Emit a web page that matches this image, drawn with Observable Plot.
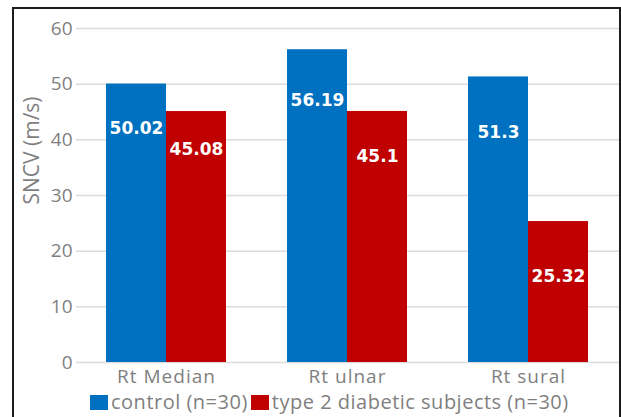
<!DOCTYPE html>
<html><head><meta charset="utf-8">
<script src="https://cdn.jsdelivr.net/npm/d3@7"></script>
<script src="https://cdn.jsdelivr.net/npm/@observablehq/plot@0.6"></script>
<style>
html,body{margin:0;padding:0;background:#fff;overflow:hidden;}
#frame{position:absolute;left:12px;top:7px;width:605px;height:420px;border:2px solid #1c1c1c;background:#fff;}
#legend{display:flex;align-items:center;height:26px;margin-top:0;margin-left:76px;font-family:"Open Sans",sans-serif;font-size:20px;letter-spacing:0.5px;color:#7f7f7f;white-space:nowrap;line-height:26px;}
.sw{width:18px;height:15px;display:inline-block;margin-right:3px;}
.item{display:flex;align-items:center;margin-right:3px;}
svg{display:block;}
g[aria-label="x-axis tick label"] text{letter-spacing:1px;}
</style></head><body>
<div id="frame"><div id="chart"></div><div id="legend"></div></div>
<script>
const categories = ["Rt Median", "Rt ulnar", "Rt sural"];
const seriesNames = ["control (n=30)", "type 2 diabetic subjects (n=30)"];
const controlValues = [50.02, 56.19, 51.3];
const diabeticValues = [45.08, 45.1, 25.32];
// value-label levels (in y units)
const controlLabelAt = [42.0, 47.1, 41.3];
const diabeticLabelAt = [38.3, 37.0, 15.4];
const yTicks = [0, 10, 20, 30, 40, 50, 60];
const yTitle = "SNCV (m/s)";
const colors = ["#0070C0", "#C00000"];

const control = categories.map((c, i) => ({category: c, value: controlValues[i], labelAt: controlLabelAt[i]}));
const diabetic = categories.map((c, i) => ({category: c, value: diabeticValues[i], labelAt: diabeticLabelAt[i]}));

const labelStyle = {fill: "white", fontWeight: "bold", fontSize: 17, fontFamily: "DejaVu Sans"};

const chart = Plot.plot({
  width: 605, height: 380,
  marginLeft: 62, marginRight: 0, marginTop: 19, marginBottom: 27,
  style: {fontFamily: '"Open Sans", sans-serif', background: "transparent"},
  x: {domain: categories, paddingInner: 0.337, paddingOuter: 0.1685, label: null},
  y: {domain: [0, 60], label: null},
  marks: [
    Plot.gridY(yTicks, {stroke: "#dcdcdc", strokeOpacity: 1, strokeWidth: 1.5}),
    Plot.axisY(yTicks, {tickSize: 0, tickPadding: 4, fontSize: 19, fill: "#7f7f7f", label: null}),
    Plot.axisX({tickSize: 0, tickPadding: 7, fontSize: 19, fill: "#7f7f7f", label: null}),
    Plot.barY(control, {x: "category", y: "value", fill: colors[0], insetRight: 60}),
    Plot.barY(diabetic, {x: "category", y: "value", fill: colors[1], insetLeft: 60}),
    Plot.text(control, {x: "category", y: "labelAt", text: d => String(d.value), dx: -30, ...labelStyle}),
    Plot.text(diabetic, {x: "category", y: "labelAt", text: d => String(d.value), dx: 30, ...labelStyle}),
    Plot.text([yTitle], {frameAnchor: "left", rotate: -90, dx: -44, dy: 9, fontSize: 21, fill: "#7f7f7f"})
  ]
});
document.getElementById("chart").appendChild(chart);

const legend = document.getElementById("legend");
seriesNames.forEach((name, i) => {
  const item = document.createElement("span");
  item.className = "item";
  const sw = document.createElement("span");
  sw.className = "sw";
  sw.style.background = colors[i];
  const t = document.createElement("span");
  t.textContent = name;
  item.appendChild(sw);
  item.appendChild(t);
  legend.appendChild(item);
});
</script>
</body></html>
